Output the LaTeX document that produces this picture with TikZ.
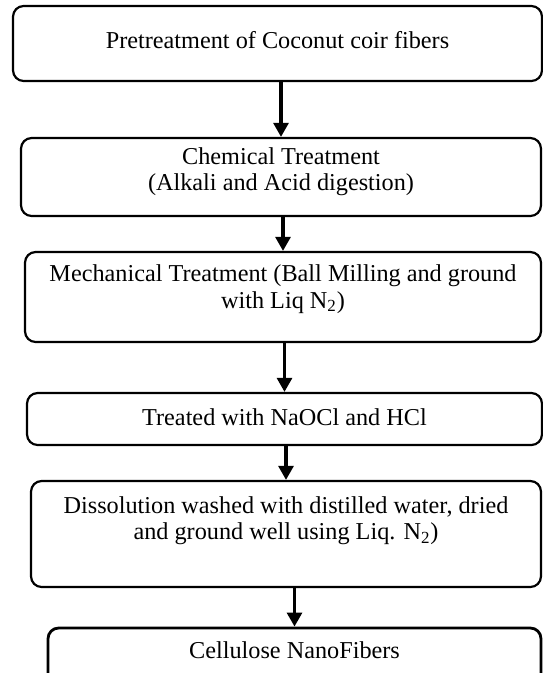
\documentclass[tikz,border=0pt]{standalone}
\usepackage{fontspec}
\setmainfont{Liberation Serif}
\usetikzlibrary{arrows.meta}
\begin{document}
\begin{tikzpicture}[x=0.02cm, y=-0.02cm, font=\fontsize{13.8}{15}\selectfont, line join=round, line cap=round,
	stage/.style={draw, line width=1.25pt, rounded corners=6pt},
	hop/.style={line width=1.8pt, -{Triangle[width=8.5pt, length=8pt]}}]
	% page frame
	\clip (0,0) rectangle (543,673);
	% the six stages (centre x / centre y / width / height)
	\foreach \n/\cx/\cy/\w/\h in {1/277.5/43.5/10.58/1.5, 2/281/177/10.4/1.56, 3/283/297/10.32/1.8,
		4/284.5/419/10.3/1.04, 5/286/534/10.2/2.12}
	\node[stage, minimum width=\w cm, minimum height=\h cm] (b\n) at (\cx,\cy) {};
	\node[stage, line width=1.6pt, minimum width=9.86cm, minimum height=1.6cm] (b6) at (294.5,668) {};
	% labels
	\node (t1) at (277.5,40) {Pretreatment of Coconut coir fibers};
	\node[align=center] (t2) at (281,172) {Chemical Treatment\\(Alkali and Acid digestion)};
	\node[align=center] (t3) at (283,289) {Mechanical Treatment (Ball Milling and ground\\with Liq N\textsubscript{2})};
	\node (t4) at (284.5,417) {Treated with NaOCl and HCl};
	\node[align=center] (t5) at (286,521) {Dissolution washed with distilled water, dried\\and ground well using Liq. N\textsubscript{2})};
	\node (t6) at (294.5,650) {Cellulose NanoFibers};
	% arrows between the stages
	\foreach \a/\b in {1/2, 2/3, 3/4, 4/5, 5/6}
	\draw[hop] (b\b.north |- b\a.south) -- (b\b.north);
\end{tikzpicture}
\end{document}
